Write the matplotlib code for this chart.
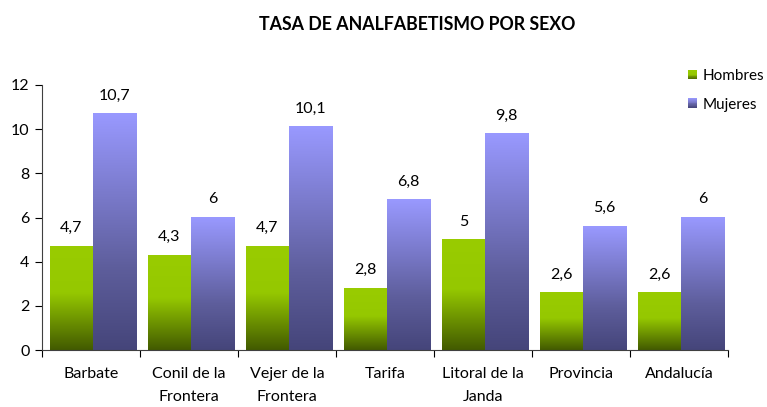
#!/usr/bin/env python3

# Bar chart of illiteracy rate by sex, with the gradient-filled bars of the original

import numpy as np
import matplotlib
matplotlib.use("Agg")
from matplotlib import pyplot as plt
from matplotlib.colors import LinearSegmentedColormap
from matplotlib.legend_handler import HandlerBase
from matplotlib.patches import Rectangle


# data
categories = ["Barbate", "Conil de la\nFrontera", "Vejer de la\nFrontera", "Tarifa",
			  "Litoral de la\nJanda", "Provincia", "Andalucía"]
hombres = [4.7, 4.3, 4.7, 2.8, 5.0, 2.6, 2.6]
mujeres = [10.7, 6.0, 10.1, 6.8, 9.8, 5.6, 6.0]
series_names = ["Hombres", "Mujeres"]
y_ticks = [0, 2, 4, 6, 8, 10, 12]

# gradients run from the bottom of a bar (0) to its top (1)
green_cmap = LinearSegmentedColormap.from_list(
	"green", [(0.0, "#425a00"), (0.55, "#95c800"), (1.0, "#99cc00")])
purple_cmap = LinearSegmentedColormap.from_list(
	"purple", [(0.0, "#45457a"), (0.35, "#5e5e9c"), (1.0, "#9999ff")])

plt.rcParams['font.family'] = ['Lato', 'DejaVu Sans']
FS = 11.5

fig = plt.figure(figsize=(7.67, 4.07), dpi=100)
ax = fig.add_axes([42/767, 57/407, 686/767, 265/407])

grad = np.linspace(0, 1, 256).reshape(-1, 1)
width = 0.44


def _gradient_bar(x0, h, cmap):
	ax.imshow(grad, cmap=cmap, origin='lower', aspect='auto',
			  extent=(x0, x0 + width, 0, h), interpolation='bilinear', zorder=2)


def _fmt(v):
	return ("%g" % v).replace(".", ",")


x = np.arange(len(categories))
for i in x:
	_gradient_bar(i - width + 0.02, hombres[i], green_cmap)
	_gradient_bar(i + 0.02, mujeres[i], purple_cmap)
	ax.text(i - width / 2 + 0.02, hombres[i] + 0.5, _fmt(hombres[i]),
			ha='center', va='bottom', fontsize=FS)
	ax.text(i + width / 2 + 0.02, mujeres[i] + 0.5, _fmt(mujeres[i]),
			ha='center', va='bottom', fontsize=FS)

ax.set_xlim(-0.5, len(categories) - 0.5)
ax.set_ylim(0, 12)
ax.set_yticks(y_ticks)
ax.set_yticklabels([str(t) for t in y_ticks], fontsize=FS)
ax.tick_params(axis='y', direction='out', length=5, width=0.8, pad=4)

# ticks at the category boundaries, labels at the centres
ax.set_xticks(np.arange(len(categories) + 1) - 0.5)
ax.set_xticklabels([])
ax.set_xticks(x, minor=True)
ax.set_xticklabels(categories, minor=True, fontsize=FS, linespacing=1.75)
ax.tick_params(axis='x', which='major', direction='out', length=5, width=0.8)
ax.tick_params(axis='x', which='minor', length=0, pad=12.5)
for lbl in ax.get_xticklabels(minor=True):
	lbl.set_va('top')

for side in ['top', 'right']:
	ax.spines[side].set_visible(False)
for side in ['left', 'bottom']:
	ax.spines[side].set_color('#404040')
	ax.spines[side].set_linewidth(0.8)


# legend squares with the same gradient
class GradientHandler(HandlerBase):
	def __init__(self, cmap):
		super().__init__()
		self.cmap = cmap

	def create_artists(self, legend, orig_handle, xdescent, ydescent, width, height, fontsize, trans):
		side = min(width, height) * 0.85
		x0 = xdescent + width - side
		y0 = -ydescent + (height - side) / 2
		n = 12
		artists = []
		for k in range(n):
			r = Rectangle((x0, y0 + side * k / n), side, side / n + 0.3,
						  facecolor=self.cmap((k + 0.5) / n), edgecolor='none', transform=trans)
			artists.append(r)
		return artists


h1 = Rectangle((0, 0), 1, 1)
h2 = Rectangle((0, 0), 1, 1)
fig.legend([h1, h2], series_names, loc='upper left', bbox_to_anchor=(678/767, 1 - 63/407),
		   frameon=False, fontsize=11, handlelength=0.85, handletextpad=0.35,
		   labelspacing=0.95, borderaxespad=0,
		   handler_map={h1: GradientHandler(green_cmap), h2: GradientHandler(purple_cmap)})

fig.text(417/767, 1 - 25/407, "TASA DE ANALFABETISMO POR SEXO", ha='center', va='center',
		 fontsize=12.8, fontweight='bold')

fig.savefig("out.png", dpi=100)
